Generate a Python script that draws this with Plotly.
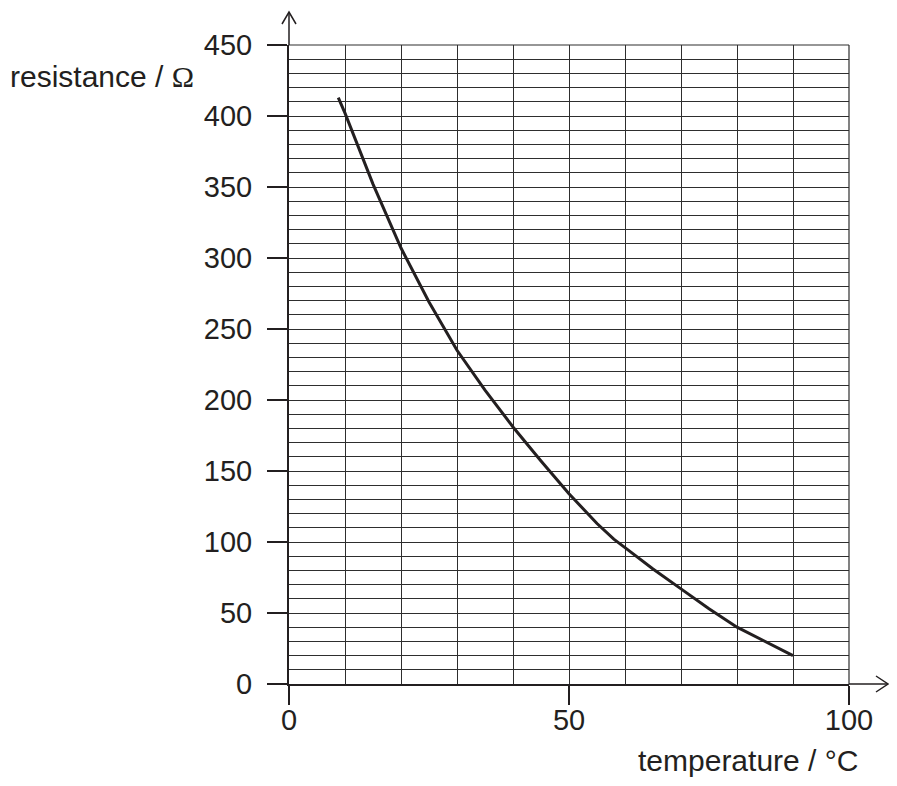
import plotly.graph_objects as go

# curve
temperature = [8.8, 10, 15, 20, 25, 30, 35, 40, 45, 50, 55, 58, 60, 65, 70, 75, 80, 85, 90]
resistance = [413, 402, 352, 307, 269, 235, 207, 181, 157, 134, 113, 102, 96, 81, 67, 53, 40, 30, 20]

x_ticks = [0, 50, 100]
y_ticks = [0, 50, 100, 150, 200, 250, 300, 350, 400, 450]

ink = "#231f20"
gridc = "#2e2e2e"
tick_font = dict(family="Liberation Sans, Arial, sans-serif", size=29, color=ink)
label_font = dict(family="Liberation Sans, Arial, sans-serif", size=30, color=ink)

fig = go.Figure()
fig.add_trace(go.Scatter(
    x=temperature, y=resistance,
    mode="lines",
    line=dict(color=ink, width=3),
    showlegend=False,
))

grid = dict(showgrid=True, gridcolor=gridc, gridwidth=1.2)
minor = dict(dtick=10, showgrid=True, gridcolor=gridc, gridwidth=1.2)

# page adds an 8px body margin, so the figure is shifted by that much
fig.update_layout(
    width=881, height=770,
    margin=dict(l=281, r=40, t=37, b=94),
    paper_bgcolor="white", plot_bgcolor="white",
    font=tick_font,
    xaxis=dict(
        range=[0, 100], tickvals=x_ticks, ticks="outside", ticklen=19,
        tickwidth=2, tickcolor=ink, showline=True, linewidth=2, linecolor=ink,
        zeroline=False, minor=minor, ticklabelstandoff=-10, **grid,
    ),
    yaxis=dict(
        range=[0, 450], tickvals=y_ticks, ticks="outside", ticklen=20,
        tickwidth=2, tickcolor=ink, showline=True, linewidth=2, linecolor=ink,
        zeroline=False, minor=minor, ticklabelstandoff=9, **grid,
    ),
)

# plot area is 560 x 639 px
w, h = 560.0, 639.0
# top and right edges of the grid
fig.add_shape(type="line", xref="paper", yref="paper", x0=0, y0=1, x1=1, y1=1,
              line=dict(color=gridc, width=1.2))
fig.add_shape(type="line", xref="paper", yref="paper", x0=1, y0=0, x1=1, y1=1,
              line=dict(color=gridc, width=1.2))

# axis arrows
fig.add_shape(type="line", xref="paper", yref="paper", x0=1, y0=0, x1=599 / w, y1=0,
              line=dict(color=ink, width=1.5))
fig.add_shape(type="path", xref="paper", yref="paper",
              path=f"M {587 / w} {8 / h} L {599 / w} 0 L {587 / w} {-8 / h}",
              line=dict(color=ink, width=1.5))
fig.add_shape(type="line", xref="paper", yref="paper", x0=0, y0=1, x1=0, y1=672 / h,
              line=dict(color=ink, width=1.5))
fig.add_shape(type="path", xref="paper", yref="paper",
              path=f"M {-7 / w} {660 / h} L 0 {672 / h} L {7 / w} {660 / h}",
              line=dict(color=ink, width=1.5))

fig.add_annotation(
    text="resistance / <span style='font-family:Liberation Serif'>Ω</span>",
    xref="paper", yref="paper", x=-281 / w, y=(684 - 77) / h,
    xanchor="left", yanchor="middle", showarrow=False, font=label_font,
)
fig.add_annotation(
    text="temperature / °C",
    xref="paper", yref="paper", x=570 / w, y=-94 / h, borderpad=0,
    xanchor="right", yanchor="bottom", showarrow=False, font=label_font,
)

fig.write_html("out.html")
